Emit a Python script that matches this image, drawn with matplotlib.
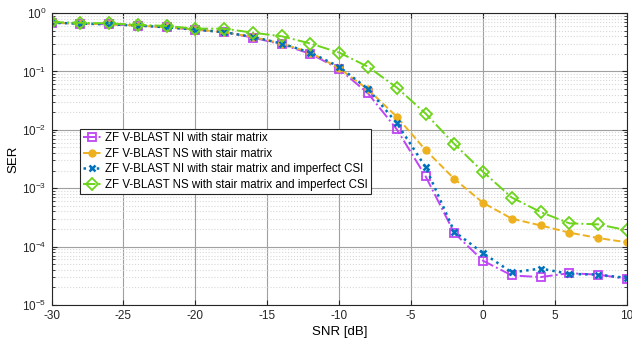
import matplotlib
matplotlib.use('Agg')
import matplotlib.pyplot as plt
from matplotlib.ticker import LogLocator, NullFormatter

plt.rcParams['font.family'] = ['Liberation Sans', 'DejaVu Sans']
plt.rcParams['mathtext.fontset'] = 'custom'
plt.rcParams['mathtext.rm'] = 'Liberation Sans'
plt.rcParams['axes.unicode_minus'] = False

# SNR points (dB)
snr = [-30, -28, -26, -24, -22, -20, -18, -16, -14, -12, -10,
       -8, -6, -4, -2, 0, 2, 4, 6, 8, 10]

# ZF V-BLAST NI with stair matrix
ser_ni = [0.68, 0.66, 0.64, 0.61, 0.57, 0.52, 0.47, 0.38, 0.29, 0.20, 0.11,
          0.042, 0.0102, 0.0016, 1.7e-4, 5.7e-5, 3.2e-5, 3.0e-5, 3.5e-5, 3.3e-5, 2.8e-5]
# ZF V-BLAST NS with stair matrix
ser_ns = [0.68, 0.66, 0.64, 0.61, 0.57, 0.52, 0.47, 0.39, 0.30, 0.21, 0.113,
          0.049, 0.0167, 0.0045, 0.00144, 5.6e-4, 3.0e-4, 2.3e-4, 1.73e-4, 1.4e-4, 1.18e-4]
# ZF V-BLAST NI with stair matrix and imperfect CSI
ser_ni_csi = [0.68, 0.66, 0.64, 0.61, 0.57, 0.52, 0.47, 0.39, 0.30, 0.21, 0.12,
              0.05, 0.013, 0.0023, 1.8e-4, 7.7e-5, 3.6e-5, 4.2e-5, 3.4e-5, 3.3e-5, 2.9e-5]
# ZF V-BLAST NS with stair matrix and imperfect CSI
ser_ns_csi = [0.70, 0.68, 0.665, 0.63, 0.60, 0.54, 0.54, 0.46, 0.40, 0.30, 0.21,
              0.12, 0.053, 0.019, 0.0057, 0.0019, 6.9e-4, 3.9e-4, 2.5e-4, 2.4e-4, 1.9e-4]

fig = plt.figure(figsize=(6.32, 3.43), dpi=100)
ax = fig.add_axes([0.0816, 0.111, 0.9104, 0.851])

ax.semilogy(snr, ser_ni, '-.', color='#BF45F5', marker='s', mfc='none', ms=5.5, mew=1.3, lw=1.4,
            label='ZF V-BLAST NI with stair matrix')
ax.semilogy(snr, ser_ns, '--', color='#EDB120', marker='o', mfc='#EDB120', ms=5, lw=1.4,
            label='ZF V-BLAST NS with stair matrix')
ax.semilogy(snr, ser_ni_csi, ':', color='#0072BD', marker='x', ms=5, mew=1.8, lw=1.8,
            label='ZF V-BLAST NI with stair matrix and imperfect CSI')
ax.semilogy(snr, ser_ns_csi, '-.', color='#6CD41A', marker='D', mfc='none', ms=6, mew=1.3, lw=1.4,
            label='ZF V-BLAST NS with stair matrix and imperfect CSI')

ax.set_xlim(-30, 10)
ax.set_ylim(1e-5, 1)
ax.set_xticks(range(-30, 11, 5))
ax.yaxis.set_major_locator(LogLocator(base=10, numticks=10))
ax.yaxis.set_minor_locator(LogLocator(base=10, subs=range(2, 10), numticks=20))
ax.yaxis.set_minor_formatter(NullFormatter())

ax.grid(which='major', color='#a0a0a0', linestyle='-', linewidth=0.8)
ax.grid(which='minor', axis='y', color='#d8d8d8', linestyle=':', linewidth=0.8)
ax.set_axisbelow(True)
ax.tick_params(which='both', direction='in', labelsize=8.5, colors='#262626', top=True, right=True)
for s in ax.spines.values():
    s.set_color('#262626')
    s.set_linewidth(0.8)

ax.set_xlabel('SNR [dB]', fontsize=9.5, labelpad=3)
ax.set_ylabel('SER', fontsize=9.5, labelpad=2)

leg = ax.legend(loc='upper left', bbox_to_anchor=(0.049, 0.603), fontsize=8.3,
                handlelength=1.6, handletextpad=0.3, borderpad=0.3, labelspacing=0.3,
                fancybox=False, framealpha=1, edgecolor='#262626', borderaxespad=0)
leg.get_frame().set_linewidth(0.8)

fig.savefig('out.png', dpi=100)
